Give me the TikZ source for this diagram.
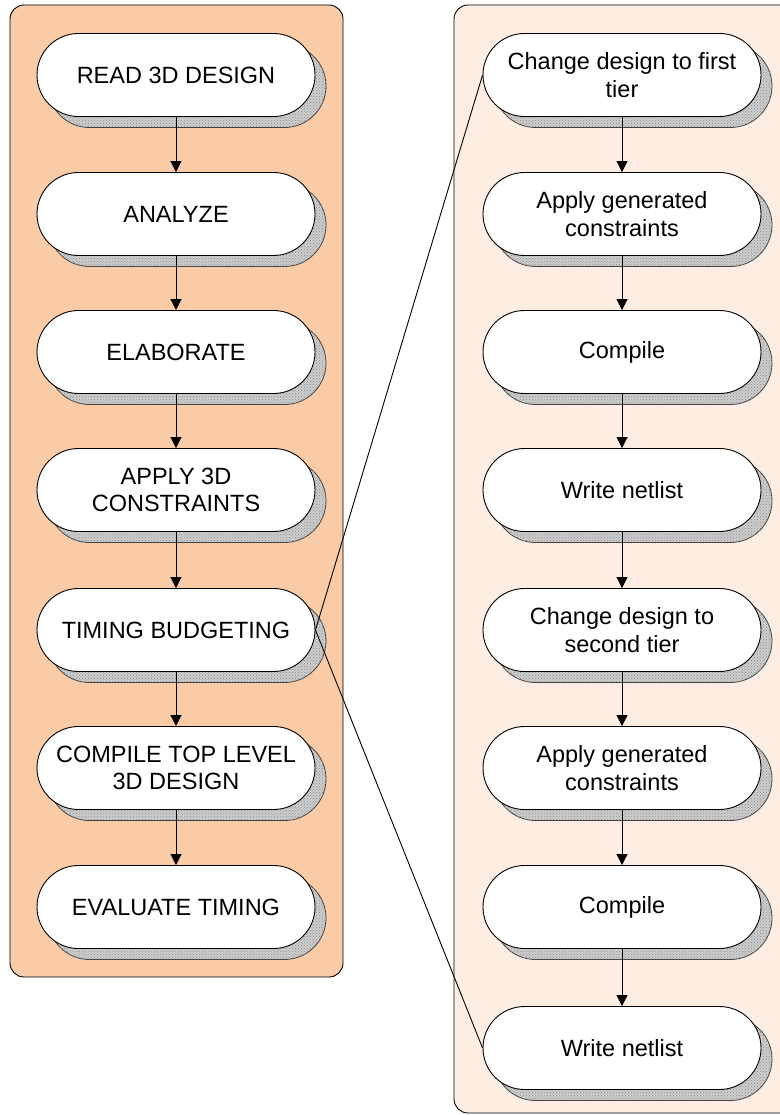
\documentclass[tikz,border=0pt]{standalone}
\usepackage{fontspec}
\setmainfont{Liberation Sans}
\usetikzlibrary{shadows,patterns,arrows.meta}
\definecolor{leftbg}{RGB}{249,203,167}
\definecolor{rightbg}{RGB}{253,237,226}
\definecolor{shadowgray}{RGB}{205,205,205}
\tikzset{
  stepbox/.style={draw=black, line width=0.9pt, fill=white, rectangle,
    minimum width=278pt, minimum height=83pt, rounded corners=41.5pt,
    align=center, font=\fontsize{23.5}{27.5}\selectfont, inner sep=2pt,
    general shadow={shadow xshift=11pt, shadow yshift=-11pt, draw=black!75, line width=0.8pt, fill=shadowgray,
      postaction={pattern=crosshatch dots, pattern color=black!45}}},
  flow/.style={-{Triangle[length=11pt,width=11pt]}, line width=0.9pt},
  link/.style={line width=0.9pt},
  panel/.style={draw=black, line width=0.9pt, rounded corners=14pt}
}
\begin{document}
\begin{tikzpicture}[x=1pt,y=-1pt]
\useasboundingbox (0,0) rectangle (779,1115);
\draw[panel, fill=leftbg] (10,5) rectangle (343,977);
\draw[panel, fill=rightbg] (454,5) rectangle (800,1113);

\node[stepbox] (l1) at (176,75) {READ 3D DESIGN};
\node[stepbox] (l2) at (176,214) {ANALYZE};
\node[stepbox] (l3) at (176,352) {ELABORATE};
\node[stepbox] (l4) at (176,490) {APPLY 3D\\CONSTRAINTS};
\node[stepbox] (l5) at (176,630) {TIMING BUDGETING};
\node[stepbox] (l6) at (176,768) {COMPILE TOP LEVEL\\3D DESIGN};
\node[stepbox] (l7) at (176,907) {EVALUATE TIMING};

\node[stepbox] (r1) at (622,75) {Change design to first\\tier};
\node[stepbox] (r2) at (622,214) {Apply generated\\constraints};
\node[stepbox] (r3) at (622,352) {Compile};
\node[stepbox] (r4) at (622,490) {Write netlist};
\node[stepbox] (r5) at (622,630) {Change design to\\second tier};
\node[stepbox] (r6) at (622,768) {Apply generated\\constraints};
\node[stepbox] (r7) at (622,907) {Compile};
\node[stepbox] (r8) at (622,1048) {Write netlist};

\foreach \a/\b in {l1/l2,l2/l3,l3/l4,l4/l5,l5/l6,l6/l7,r1/r2,r2/r3,r3/r4,r4/r5,r5/r6,r6/r7,r7/r8}
  \draw[flow] (\a.south) -- (\b.north);

\draw[link] (l5.east) -- (r1.west);
\draw[link] (l5.east) -- (r8.west);
\end{tikzpicture}
\end{document}
